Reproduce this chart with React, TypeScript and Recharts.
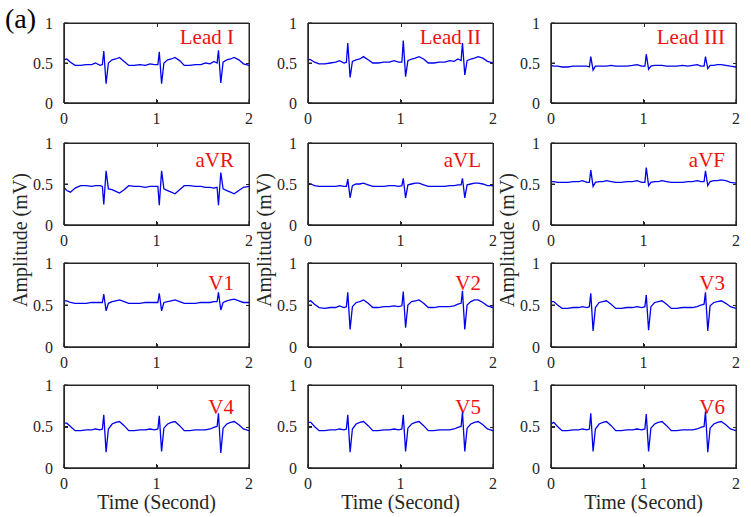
import React from 'react';
import { LineChart, Line, XAxis, YAxis, ReferenceArea } from 'recharts';

const timeSec = [0, 0.03, 0.07, 0.12, 0.18, 0.24, 0.3, 0.34, 0.39, 0.415, 0.43, 0.455,
  0.48, 0.52, 0.56, 0.6, 0.65, 0.7, 0.76, 0.82, 0.88, 0.93, 0.98, 1.015,
  1.03, 1.055, 1.08, 1.12, 1.16, 1.2, 1.25, 1.3, 1.36, 1.42, 1.48, 1.53,
  1.58, 1.62, 1.655, 1.67, 1.695, 1.72, 1.76, 1.8, 1.84, 1.89, 1.94, 2.0];

const leadI = [0.54,0.55,0.51,0.47,0.47,0.48,0.48,0.50,0.47,0.48,0.65,0.24,
  0.50,0.54,0.55,0.57,0.52,0.47,0.47,0.48,0.47,0.49,0.48,0.48,
  0.64,0.24,0.50,0.54,0.55,0.57,0.53,0.47,0.47,0.48,0.48,0.50,
  0.49,0.52,0.50,0.66,0.25,0.51,0.54,0.55,0.57,0.54,0.49,0.47];
const leadII = [0.55,0.54,0.51,0.49,0.49,0.50,0.51,0.53,0.50,0.51,0.75,0.32,
  0.52,0.54,0.55,0.58,0.54,0.50,0.50,0.51,0.51,0.53,0.51,0.51,
  0.78,0.33,0.53,0.55,0.56,0.58,0.55,0.50,0.50,0.51,0.51,0.53,
  0.52,0.55,0.53,0.75,0.35,0.53,0.55,0.56,0.58,0.56,0.52,0.50];
const leadIII = [0.47,0.46,0.46,0.45,0.45,0.46,0.46,0.46,0.46,0.45,0.58,0.41,
  0.46,0.46,0.46,0.46,0.47,0.46,0.46,0.46,0.47,0.48,0.46,0.46,
  0.61,0.42,0.46,0.47,0.47,0.47,0.46,0.46,0.46,0.47,0.46,0.47,
  0.48,0.46,0.46,0.58,0.43,0.47,0.47,0.48,0.48,0.47,0.46,0.45];
const aVR = [0.46,0.42,0.40,0.45,0.48,0.48,0.47,0.48,0.48,0.47,0.25,0.66,
  0.44,0.43,0.41,0.39,0.43,0.48,0.47,0.47,0.46,0.47,0.47,0.47,
  0.24,0.66,0.44,0.42,0.40,0.38,0.43,0.48,0.48,0.47,0.47,0.46,
  0.46,0.45,0.46,0.24,0.64,0.44,0.42,0.40,0.38,0.42,0.46,0.47];
const aVL = [0.51,0.50,0.48,0.47,0.47,0.47,0.47,0.48,0.47,0.47,0.56,0.33,
  0.48,0.50,0.50,0.51,0.49,0.47,0.47,0.47,0.48,0.48,0.47,0.48,
  0.57,0.33,0.49,0.50,0.51,0.51,0.49,0.47,0.47,0.47,0.47,0.48,
  0.48,0.49,0.49,0.57,0.33,0.49,0.50,0.51,0.51,0.50,0.48,0.48];
const aVF = [0.53,0.53,0.52,0.52,0.52,0.53,0.53,0.54,0.52,0.52,0.67,0.47,
  0.52,0.53,0.53,0.54,0.53,0.52,0.52,0.53,0.53,0.54,0.52,0.52,
  0.70,0.48,0.52,0.53,0.53,0.54,0.53,0.52,0.52,0.52,0.53,0.53,
  0.54,0.53,0.53,0.66,0.48,0.53,0.54,0.54,0.55,0.54,0.52,0.51];
const V1 = [0.55,0.55,0.53,0.52,0.52,0.52,0.53,0.53,0.53,0.53,0.63,0.43,
  0.52,0.54,0.55,0.56,0.54,0.52,0.52,0.52,0.53,0.53,0.53,0.53,
  0.64,0.43,0.53,0.54,0.55,0.56,0.54,0.52,0.52,0.52,0.53,0.53,
  0.53,0.54,0.54,0.65,0.44,0.53,0.55,0.56,0.57,0.55,0.53,0.53];
const V2 = [0.54,0.55,0.51,0.47,0.46,0.47,0.47,0.49,0.47,0.48,0.65,0.21,
  0.48,0.53,0.54,0.56,0.52,0.47,0.47,0.48,0.48,0.49,0.48,0.49,
  0.66,0.23,0.50,0.54,0.55,0.56,0.52,0.47,0.47,0.48,0.48,0.48,
  0.49,0.51,0.52,0.67,0.21,0.50,0.54,0.56,0.56,0.53,0.49,0.47];
const V3 = [0.54,0.54,0.50,0.46,0.46,0.47,0.47,0.48,0.47,0.48,0.64,0.19,
  0.47,0.53,0.54,0.55,0.51,0.46,0.46,0.47,0.47,0.48,0.47,0.48,
  0.62,0.20,0.48,0.53,0.54,0.55,0.51,0.46,0.46,0.47,0.47,0.47,
  0.48,0.50,0.51,0.65,0.19,0.49,0.53,0.54,0.55,0.52,0.48,0.46];
const V4 = [0.54,0.54,0.50,0.45,0.45,0.46,0.46,0.47,0.46,0.47,0.64,0.19,
  0.47,0.53,0.55,0.56,0.51,0.45,0.45,0.46,0.46,0.47,0.46,0.47,
  0.63,0.20,0.48,0.53,0.55,0.56,0.51,0.45,0.45,0.46,0.46,0.46,
  0.47,0.49,0.50,0.66,0.18,0.48,0.53,0.55,0.56,0.52,0.47,0.45];
const V5 = [0.55,0.55,0.50,0.45,0.45,0.46,0.46,0.47,0.46,0.47,0.64,0.19,
  0.47,0.53,0.55,0.56,0.51,0.45,0.45,0.46,0.46,0.47,0.46,0.47,
  0.64,0.20,0.48,0.53,0.55,0.56,0.51,0.45,0.45,0.46,0.46,0.46,
  0.47,0.49,0.50,0.67,0.20,0.48,0.53,0.55,0.56,0.52,0.47,0.45];
const V6 = [0.53,0.55,0.50,0.45,0.45,0.46,0.46,0.47,0.46,0.47,0.66,0.20,
  0.47,0.53,0.55,0.56,0.51,0.45,0.45,0.46,0.46,0.47,0.46,0.47,
  0.65,0.20,0.48,0.53,0.55,0.56,0.51,0.45,0.45,0.46,0.46,0.46,
  0.47,0.49,0.50,0.68,0.19,0.48,0.53,0.55,0.56,0.52,0.47,0.45];

const leadNames = ['Lead I', 'Lead II', 'Lead III', 'aVR', 'aVL', 'aVF', 'V1', 'V2', 'V3', 'V4', 'V5', 'V6'];
const leadValues = [leadI, leadII, leadIII, aVR, aVL, aVF, V1, V2, V3, V4, V5, V6];
const xTicks = [0, 1, 2];
const yTicks = [0, 0.5, 1];

// layout (pixels)
const colLefts = [64, 308, 551];
const plotW = 185;
const rowTops = [23, 143, 263, 385];
const rowBottoms = [103, 225, 347, 468];
const labelRightOffset = [15, 12, 11];
const labelDy = [14, 17, 20, 22];

const FONT = '"Times New Roman", "Liberation Serif", serif';
const AXIS = '#262626';
const PADL = 50;
const PADT = 10;
const PADR = 10;
const PADB = 30;
const TICK = 4;

const tickStyle = { fontFamily: FONT, fontSize: 16, fill: AXIS };

function Panel({ idx }: { idx: number }) {
  const r = Math.floor(idx / 3);
  const c = idx % 3;
  const h = rowBottoms[r] - rowTops[r];
  const data = timeSec.map((t, i) => ({ t, v: leadValues[idx][i] }));
  return (
    <div style={{ position: 'absolute', left: colLefts[c] - PADL, top: rowTops[r] - PADT }}>
      <LineChart width={PADL + plotW + PADR} height={PADT + h + PADB} data={data}
        margin={{ top: PADT, right: PADR, left: 0, bottom: 0 }}>
        <XAxis dataKey="t" type="number" domain={[0, 2]} ticks={xTicks} allowDataOverflow
          height={PADB} stroke={AXIS} tickSize={-TICK} tickMargin={14} tick={tickStyle}
          axisLine={{ stroke: AXIS }} tickLine={{ stroke: AXIS }} />
        <YAxis type="number" domain={[0, 1]} ticks={yTicks} width={PADL} allowDataOverflow
          stroke={AXIS} tickSize={-TICK} tickMargin={15} tick={tickStyle}
          axisLine={{ stroke: AXIS }} tickLine={{ stroke: AXIS }} />
        <ReferenceArea x1={0} x2={2} y1={0} y2={1} fill="none" stroke={AXIS} ifOverflow="visible" />
        <Line dataKey="v" stroke="#0000ee" strokeWidth={1.3} dot={false} isAnimationActive={false} />
      </LineChart>
    </div>
  );
}

function Frame({ idx }: { idx: number }) {
  const r = Math.floor(idx / 3);
  const c = idx % 3;
  const h = rowBottoms[r] - rowTops[r];
  const base: React.CSSProperties = { position: 'absolute', background: AXIS, pointerEvents: 'none' };
  const l = colLefts[c];
  const t = rowTops[r];
  return (
    <div style={{ position: 'absolute', left: l, top: t, width: plotW + 1, height: h + 1, pointerEvents: 'none' }}>
      <div style={{ position: 'absolute', left: 0, top: 0, width: plotW + 1, height: h + 1,
        boxSizing: 'border-box', border: `1px solid ${AXIS}` }} />
      <div style={{ ...base, left: plotW / 2, top: 0, width: 1, height: TICK }} />
      <div style={{ ...base, left: plotW / 2, top: h - TICK + 1, width: 1, height: TICK }} />
      <div style={{ ...base, left: 0, top: h / 2, width: TICK, height: 1 }} />
      <div style={{ ...base, left: plotW - TICK + 1, top: h / 2, width: TICK, height: 1 }} />
    </div>
  );
}

export default function App() {
  return (
    <div style={{ position: 'absolute', left: 0, top: 0, width: 751, height: 517, background: '#fff' }}>
      <svg width={751} height={517} style={{ position: 'absolute', left: 0, top: 0 }}>
        <text x={5} y={28} fontFamily={FONT} fontSize={28} fill="#000">(a)</text>
        {leadNames.map((name, i) => {
          const r = Math.floor(i / 3);
          const c = i % 3;
          return (
            <text key={name} x={colLefts[c] + plotW - labelRightOffset[c]} y={rowTops[r] + labelDy[r]}
              textAnchor="end" dominantBaseline="central" fontFamily={FONT} fontSize={21} fill="#ee1111">
              {name}
            </text>
          );
        })}
        {colLefts.map((l, c) => (
          <text key={'yl' + c} x={0} y={0} transform={`translate(${l - 44},${240}) rotate(-90)`}
            textAnchor="middle" dominantBaseline="central" fontFamily={FONT} fontSize={20} fill={AXIS}>
            Amplitude (mV)
          </text>
        ))}
        {colLefts.map((l, c) => (
          <text key={'xl' + c} x={l + plotW / 2} y={509} textAnchor="middle"
            fontFamily={FONT} fontSize={20} fill={AXIS}>
            Time (Second)
          </text>
        ))}
      </svg>
      {leadNames.map((_, i) => <Panel key={'p' + i} idx={i} />)}
      {leadNames.map((_, i) => <Frame key={'f' + i} idx={i} />)}
    </div>
  );
}
